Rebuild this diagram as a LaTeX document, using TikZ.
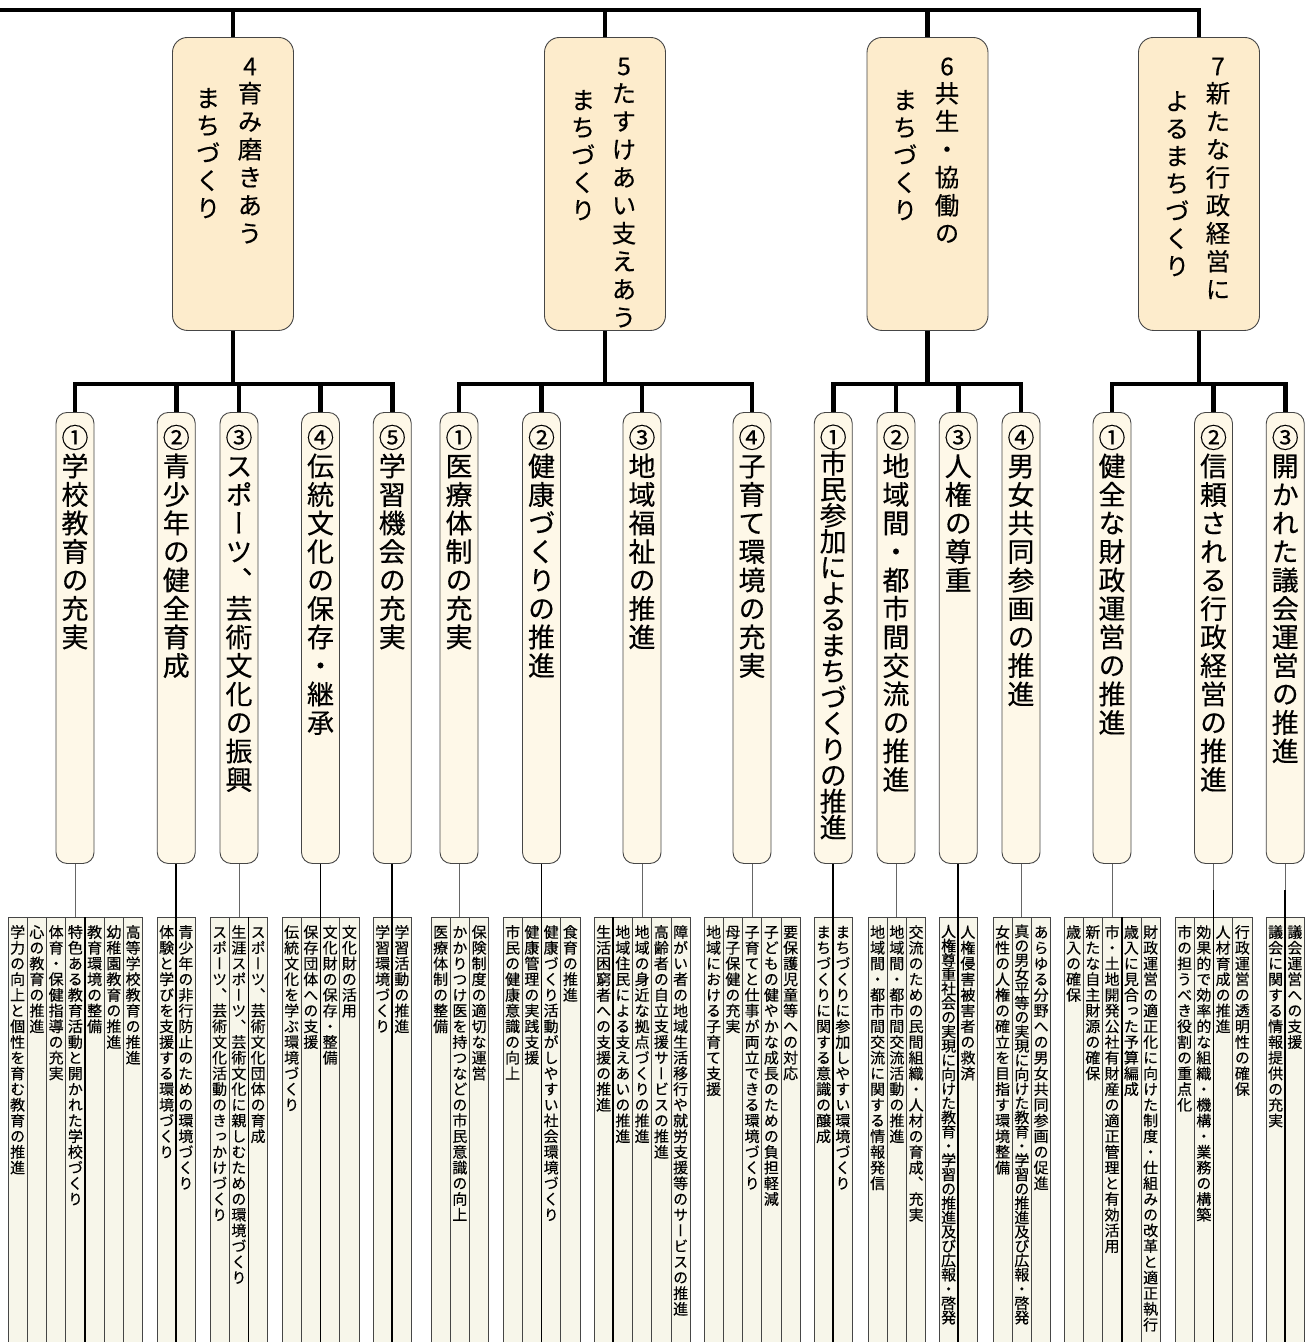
\documentclass[tikz,border=0pt]{standalone}
\usepackage{fontspec}
\setmainfont{Noto Sans CJK JP}[RawFeature=+vert,FakeBold=0.35]
\definecolor{mainfill}{RGB}{253,236,204}
\definecolor{subfill}{RGB}{254,248,232}
\definecolor{colfill}{RGB}{247,246,234}
\definecolor{edge}{RGB}{70,70,70}
\newlength\vtp
\makeatletter
\def\vt@loop#1{\ifx#1\relax\else\hbox to 1em{\hss\vrule height\dimexpr0.5\vtp+0.38em\relax depth\dimexpr0.5\vtp-0.38em\relax width0pt\relax#1\hss}\expandafter\vt@loop\fi}
\newcommand\vtext[2]{\setlength\vtp{#1}\vbox{\offinterlineskip\vt@loop#2\relax}}
\makeatother
\newcounter{colc}
\newcommand\colm[3][15.7pt]{%
  \stepcounter{colc}%
  \draw[colbox] (#2,917) rectangle ++(19.25,440);
  \node[coltext] (c\arabic{colc}) at ({#2+9.625},924) {\vtext{#1}{#3}};
}
\begin{document}
\begin{tikzpicture}[x=1pt,y=-1pt,
  thickline/.style={line width=4.5pt, line join=miter},
  mainbox/.style={draw=edge, fill=mainfill, line width=0.9pt, rounded corners=15pt, minimum width=121pt, minimum height=293pt, anchor=north, inner sep=0pt},
  subbox/.style={draw=edge, fill=subfill, line width=0.9pt, rounded corners=11pt, minimum width=38pt, minimum height=451pt, anchor=north, inner sep=0pt},
  maintext/.style={inner sep=0pt, anchor=north, font=\fontsize{24.5}{28}\selectfont},
  subtext/.style={inner sep=0pt, anchor=north, font=\fontsize{27}{28}\selectfont},
  coltext/.style={inner sep=0pt, anchor=north, font=\fontsize{15}{16}\selectfont},
  colbox/.style={draw=edge, fill=colfill, line width=0.8pt},
  grayconn/.style={draw=black!60, line width=1pt},
  blackconn/.style={draw=black, line width=1.6pt},
]
\useasboundingbox (0,0) rectangle (1308,1342);
\clip (0,0) rectangle (1308,1342);
\fill[white] (0,0) rectangle (1308,1342);

% ---------- main boxes ----------
\node[mainbox] (m4) at (233,37) {};
\node[mainbox] (m5) at (605,37) {};
\node[mainbox] (m6) at (927.5,37) {};
\node[mainbox] (m7) at (1199,37) {};

\node[maintext, anchor=center] (d4) at (250,66.5) {4};
\node[maintext] (r4) at (250,79) {\vtext{28pt}{育み磨きあう}};
\node[maintext] (l4) at (208,84) {\vtext{27.5pt}{まちづくり}};

\node[maintext, anchor=center] (d5) at (624,66.5) {5};
\node[maintext] (r5) at (624,79) {\vtext{28pt}{たすけあい支えあう}};
\node[maintext] (l5) at (583,86) {\vtext{27.5pt}{まちづくり}};

\node[maintext, anchor=center] (d6) at (947,66.5) {6};
\node[maintext] (r6) at (947,79) {\vtext{28pt}{共生・協働の}};
\node[maintext] (l6) at (905,86) {\vtext{27.5pt}{まちづくり}};

\node[maintext, anchor=center] (d7) at (1218,66.5) {7};
\node[maintext] (r7) at (1218,79) {\vtext{28pt}{新たな行政経営に}};
\node[maintext] (l7) at (1177,87) {\vtext{27.5pt}{よるまちづくり}};

% ---------- sub boxes ----------
\node[subbox] (s4a) at (75,412) {};
\node[subbox] (s4b) at (176.25,412) {};
\node[subbox] (s4c) at (239,412) {};
\node[subbox] (s4d) at (320.5,412) {};
\node[subbox] (s4e) at (392.25,412) {};
\node[subbox] (s5a) at (459,412) {};
\node[subbox] (s5b) at (541.5,412) {};
\node[subbox] (s5c) at (642,412) {};
\node[subbox] (s5d) at (752,412) {};
\node[subbox] (s6a) at (833.25,412) {};
\node[subbox] (s6b) at (896,412) {};
\node[subbox] (s6c) at (958.25,412) {};
\node[subbox] (s6d) at (1021,412) {};
\node[subbox] (s7a) at (1112,412) {};
\node[subbox] (s7b) at (1213.5,412) {};
\node[subbox] (s7c) at (1285.25,412) {};

\node[subtext] (t4a) at (s4a.north |- 0,423) {\vtext{28.5pt}{①学校教育の充実}};
\node[subtext] (t4b) at (s4b.north |- 0,423) {\vtext{28.5pt}{②青少年の健全育成}};
\node[subtext] (t4c) at (s4c.north |- 0,423) {\vtext{28.5pt}{③スポーツ、芸術文化の振興}};
\node[subtext] (t4d) at (s4d.north |- 0,423) {\vtext{28.5pt}{④伝統文化の保存・継承}};
\node[subtext] (t4e) at (s4e.north |- 0,423) {\vtext{28.5pt}{⑤学習機会の充実}};
\node[subtext] (t5a) at (s5a.north |- 0,423) {\vtext{28.5pt}{①医療体制の充実}};
\node[subtext] (t5b) at (s5b.north |- 0,423) {\vtext{28.5pt}{②健康づくりの推進}};
\node[subtext] (t5c) at (s5c.north |- 0,423) {\vtext{28.5pt}{③地域福祉の推進}};
\node[subtext] (t5d) at (s5d.north |- 0,423) {\vtext{28.5pt}{④子育て環境の充実}};
\node[subtext] (t6a) at (s6a.north |- 0,424) {\vtext{26pt}{①市民参加によるまちづくりの推進}};
\node[subtext] (t6b) at (s6b.north |- 0,423) {\vtext{28.5pt}{②地域間・都市間交流の推進}};
\node[subtext] (t6c) at (s6c.north |- 0,423) {\vtext{28.5pt}{③人権の尊重}};
\node[subtext] (t6d) at (s6d.north |- 0,423) {\vtext{28.5pt}{④男女共同参画の推進}};
\node[subtext] (t7a) at (s7a.north |- 0,423) {\vtext{28.5pt}{①健全な財政運営の推進}};
\node[subtext] (t7b) at (s7b.north |- 0,423) {\vtext{28.5pt}{②信頼される行政経営の推進}};
\node[subtext] (t7c) at (s7c.north |- 0,423) {\vtext{28.5pt}{③開かれた議会運営の推進}};

% ---------- thick connectors ----------
\coordinate (topL) at (0,10);
\coordinate (topR) at (1199,10);
\draw[thickline] (topL) -- (topR) -- (m7.north);
\draw[thickline] (m4.north) -- (m4.north |- topL);
\draw[thickline] (m5.north) -- (m5.north |- topL);
\draw[thickline] (m6.north) -- (m6.north |- topL);

\draw[thickline] (m4.south) -- (m4.south |- 0,384);
\draw[thickline] (m5.south) -- (m5.south |- 0,384);
\draw[thickline] (m6.south) -- (m6.south |- 0,384);
\draw[thickline] (m7.south) -- (m7.south |- 0,384);

\draw[thickline] (s4a.north) -- (s4a.north |- 0,384) -- (s4e.north |- 0,384) -- (s4e.north);
\draw[thickline] (s4b.north) -- (s4b.north |- 0,384);
\draw[thickline] (s4c.north) -- (s4c.north |- 0,384);
\draw[thickline] (s4d.north) -- (s4d.north |- 0,384);
\draw[thickline] (s5a.north) -- (s5a.north |- 0,384) -- (s5d.north |- 0,384) -- (s5d.north);
\draw[thickline] (s5b.north) -- (s5b.north |- 0,384);
\draw[thickline] (s5c.north) -- (s5c.north |- 0,384);
\draw[thickline] (s6a.north) -- (s6a.north |- 0,384) -- (s6d.north |- 0,384) -- (s6d.north);
\draw[thickline] (s6b.north) -- (s6b.north |- 0,384);
\draw[thickline] (s6c.north) -- (s6c.north |- 0,384);
\draw[thickline] (s7a.north) -- (s7a.north |- 0,384) -- (s7c.north |- 0,384) -- (s7c.north);
\draw[thickline] (s7b.north) -- (s7b.north |- 0,384);

% ---------- bottom columns ----------
\colm{8}{学力の向上と個性を育む教育の推進}
\colm{27.25}{心の教育の推進}
\colm{46.5}{体育・保健指導の充実}
\colm{65.75}{特色ある教育活動と開かれた学校づくり}
\colm{85}{教育環境の整備}
\colm{104.25}{幼稚園教育の推進}
\colm{123.5}{高等学校教育の推進}

\colm{157}{体験と学びを支援する環境づくり}
\colm{176.25}{青少年の非行防止のための環境づくり}

\colm{210}{スポーツ、芸術文化活動のきっかけづくり}
\colm{229.25}{生涯スポーツ、芸術文化に親しむための環境づくり}
\colm{248.5}{スポーツ、芸術文化団体の育成}

\colm{282}{伝統文化を学ぶ環境づくり}
\colm{301.25}{保存団体への支援}
\colm{320.5}{文化財の保存・整備}
\colm{339.75}{文化財の活用}

\colm{373}{学習環境づくり}
\colm{392.25}{学習活動の推進}

\colm{431}{医療体制の整備}
\colm{450.25}{かかりつけ医を持つなどの市民意識の向上}
\colm{469.5}{保険制度の適切な運営}

\colm{503}{市民の健康意識の向上}
\colm{522.25}{健康管理の実践支援}
\colm{541.5}{健康づくり活動がしやすい社会環境づくり}
\colm{560.75}{食育の推進}

\colm{594}{生活困窮者への支援の推進}
\colm{613.25}{地域住民による支えあいの推進}
\colm{632.5}{地域の身近な拠点づくりの推進}
\colm{651.75}{高齢者の自立支援サービスの推進}
\colm{671}{障がい者の地域生活移行や就労支援等のサービスの推進}

\colm{704}{地域における子育て支援}
\colm{723.25}{母子保健の充実}
\colm{742.5}{子育てと仕事が両立できる環境づくり}
\colm{761.75}{子どもの健やかな成長のための負担軽減}
\colm{781}{要保護児童等への対応}

\colm{814}{まちづくりに関する意識の醸成}
\colm{833.25}{まちづくりに参加しやすい環境づくり}

\colm{868}{地域間・都市間交流に関する情報発信}
\colm{887.25}{地域間・都市間交流活動の推進}
\colm{906.5}{交流のための民間組織・人材の育成、充実}

\colm[14.3pt]{939}{人権尊重社会の実現に向けた教育・学習の推進及び広報・啓発}
\colm{958.25}{人権侵害被害者の救済}

\colm{993}{女性の人権の確立を目指す環境整備}
\colm[14.3pt]{1012.25}{真の男女平等の実現に向けた教育・学習の推進及び広報・啓発}
\colm{1031.5}{あらゆる分野への男女共同参画の促進}

\colm{1064}{歳入の確保}
\colm{1083.25}{新たな自主財源の確保}
\colm{1102.5}{市・土地開発公社有財産の適正管理と有効活用}
\colm{1121.75}{歳入に見合った予算編成}
\colm{1141}{財政運営の適正化に向けた制度・仕組みの改革と適正執行}

\colm{1175}{市の担うべき役割の重点化}
\colm{1194.25}{効果的で効率的な組織・機構・業務の構築}
\colm{1213.5}{人材育成の推進}
\colm{1232.75}{行政運営の透明性の確保}

\colm{1266}{議会に関する情報提供の充実}
\colm{1285.25}{議会運営への支援}

% ---------- thin connectors ----------
\draw[grayconn] (s4a.south) -- (s4a.south |- 0,917);
\draw[grayconn] (s4c.south) -- (s4c.south |- 0,917);
\draw[grayconn] (s5a.south) -- (s5a.south |- 0,917);
\draw[grayconn] (s5c.south) -- (s5c.south |- 0,917);
\draw[grayconn] (s5d.south) -- (s5d.south |- 0,917);
\draw[grayconn] (s6b.south) -- (s6b.south |- 0,917);
\draw[grayconn] (s6d.south) -- (s6d.south |- 0,917);
\draw[grayconn] (s7a.south) -- (s7a.south |- 0,917);

\draw[blackconn] (s4b.south) -- (s4b.south |- 0,1342);
\draw[blackconn] (s4d.south) -- (s4d.south |- 0,1342);
\draw[blackconn] (s4e.south) -- (s4e.south |- 0,1342);
\draw[blackconn] (s5b.south) -- (s5b.south |- 0,1342);
\draw[blackconn] (s6a.south) -- (s6a.south |- 0,1342);
\draw[blackconn] (s6c.south) -- (s6c.south |- 0,1342);
\draw[grayconn] (s7b.south) -- (s7b.south |- 0,890);
\draw[blackconn] (1213.5,890) -- (1213.5,1342);
\draw[grayconn] (s7c.south) -- (s7c.south |- 0,890);
\draw[blackconn] (1285.25,890) -- (1285.25,1342);

\draw[blackconn] (85,917) -- (85,1342);
\draw[blackconn] (248.5,917) -- (248.5,1342);
\draw[blackconn] (613.25,917) -- (613.25,1342);
\draw[blackconn] (1121.75,917) -- (1121.75,1342);
\end{tikzpicture}
\end{document}
